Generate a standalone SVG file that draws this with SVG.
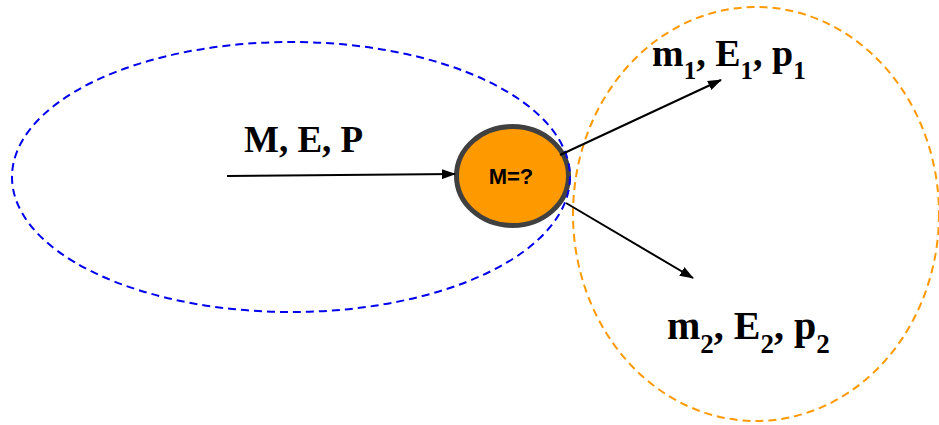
<svg xmlns="http://www.w3.org/2000/svg" width="939" height="425" viewBox="0 0 939 425">
<style>
.lbl{font-family:"Liberation Serif","Times New Roman",serif;font-weight:bold;fill:#000}
.sub{font-size:25px}
.sub2{font-size:27px}
.conn{stroke:#000;stroke-width:2;fill:none}
.zone{fill:none;stroke-width:2;stroke-dasharray:8 5}
</style>
<defs>
<marker id="ah" markerUnits="userSpaceOnUse" markerWidth="14" markerHeight="10" refX="13" refY="5" orient="auto">
<path d="M0,0 L14,5 L0,10 Z" fill="#000"/>
</marker>
</defs>
<rect width="939" height="425" fill="#fff"/>
<g id="node-particle">
<ellipse cx="512.5" cy="176" rx="56" ry="49.5" fill="#ff9900" stroke="#404040" stroke-width="5"/>
<text x="511" y="184" text-anchor="middle" font-family="Liberation Sans, Arial, sans-serif" font-weight="bold" font-size="22" fill="#000">M=?</text>
</g>
<g id="zone-initial">
<ellipse class="zone" cx="291" cy="177" rx="279" ry="135" stroke="#0000ee"/>
</g>
<g id="zone-final">
<ellipse class="zone" cx="756" cy="214" rx="183" ry="207" stroke="#ff9900"/>
</g>
<g id="connectors">
<line class="conn" x1="227" y1="176" x2="455" y2="174" marker-end="url(#ah)"/>
<line class="conn" x1="560" y1="155" x2="721" y2="80" marker-end="url(#ah)"/>
<line class="conn" x1="566" y1="203" x2="693" y2="278" marker-end="url(#ah)"/>
</g>
<g id="label-initial">
<text class="lbl" x="244" y="152" font-size="37">M, E, P</text>
</g>
<g id="label-1">
<text class="lbl" x="652" y="66" font-size="38">m<tspan class="sub" dy="13">1</tspan><tspan dy="-13">, E</tspan><tspan class="sub" dy="13">1</tspan><tspan dy="-13">, p</tspan><tspan class="sub" dy="13">1</tspan></text>
</g>
<g id="label-2">
<text class="lbl" x="667" y="339" font-size="40">m<tspan class="sub2" dy="14">2</tspan><tspan dy="-14">, E</tspan><tspan class="sub2" dy="14">2</tspan><tspan dy="-14">, p</tspan><tspan class="sub2" dy="14">2</tspan></text>
</g>
</svg>
